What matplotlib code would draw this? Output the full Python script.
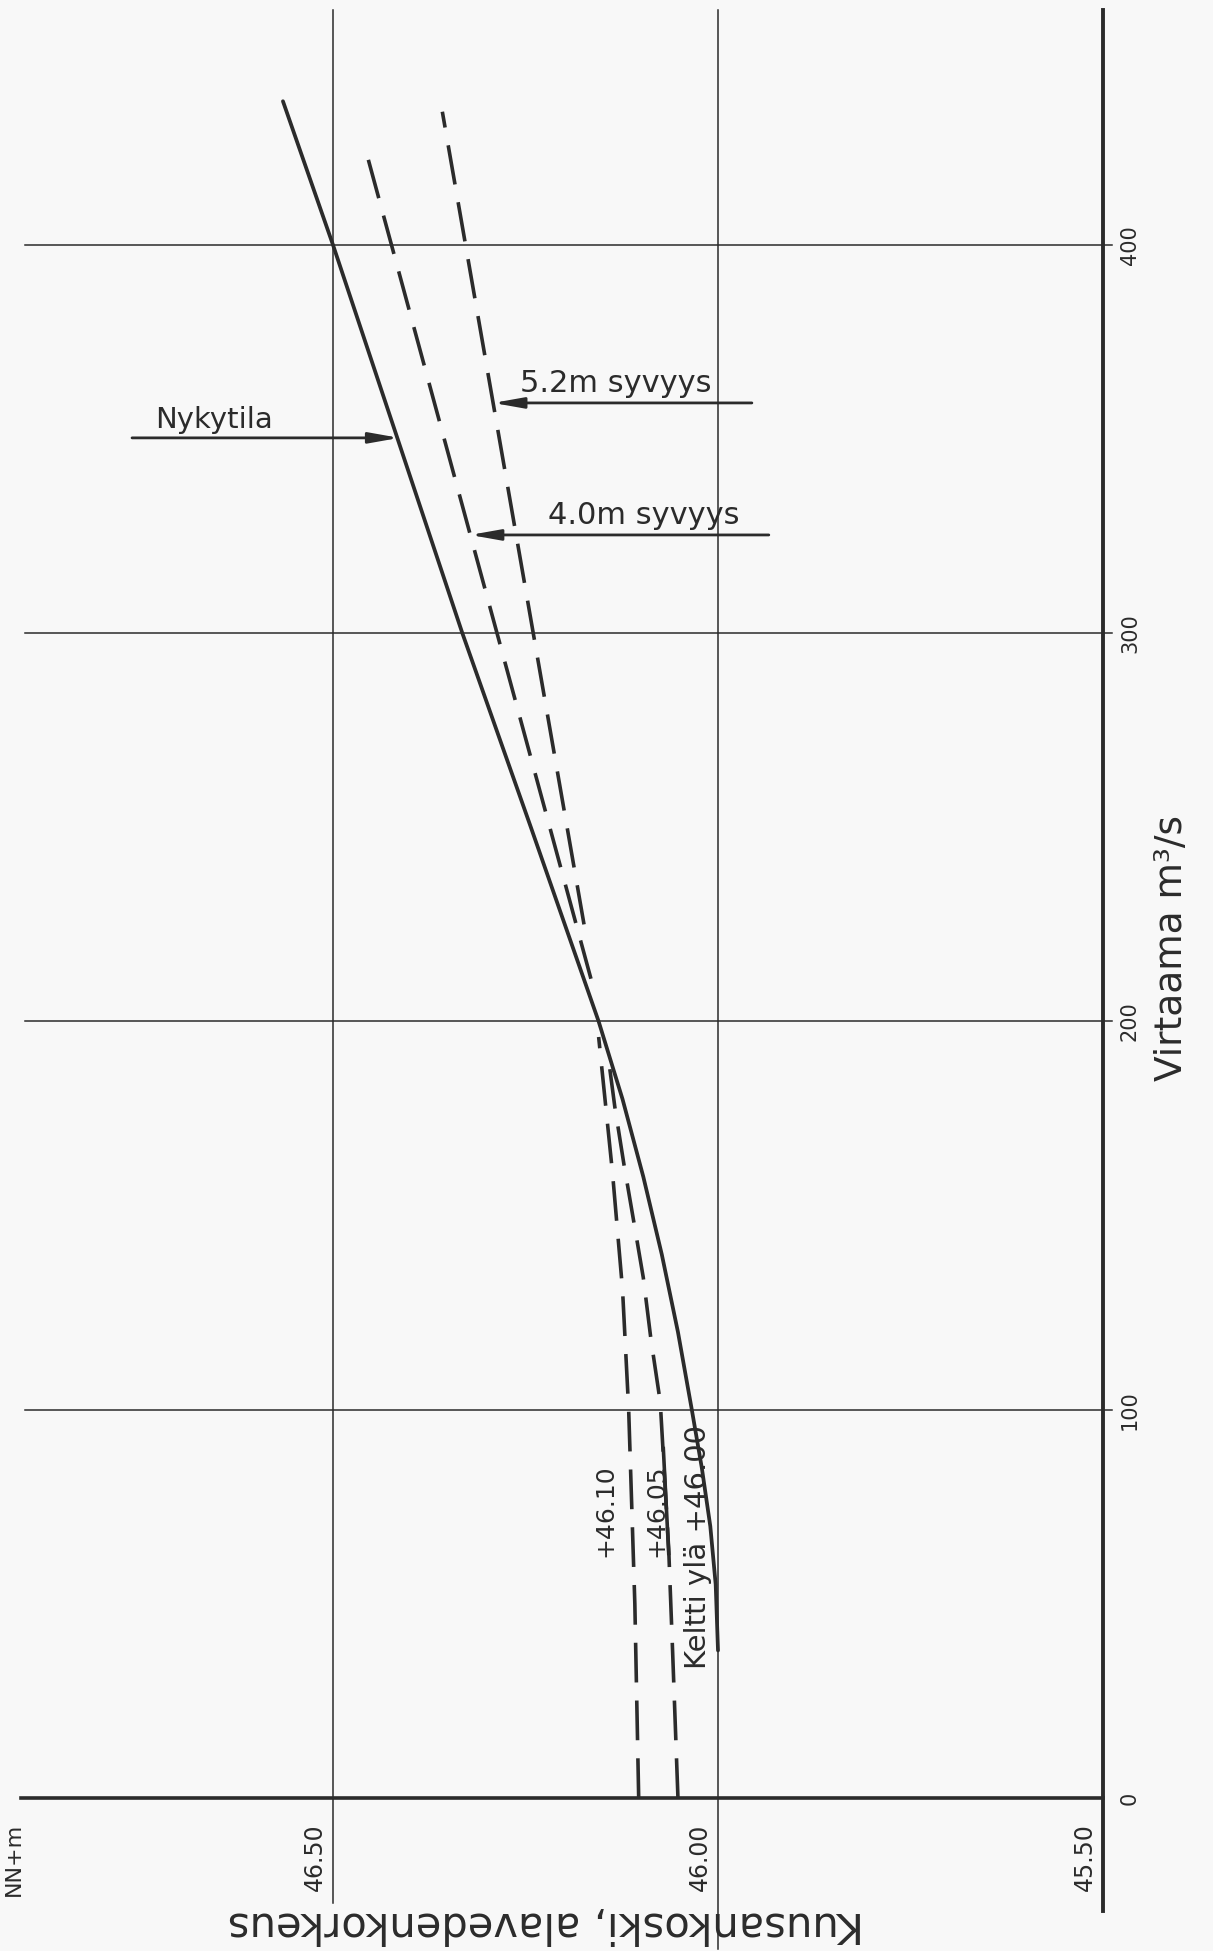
import matplotlib.pyplot as plt

# virtaama (m3/s) vs alavedenkorkeus (NN+m), piirretty kaannettyna kuten originaali
q_nyky = [38, 55, 70, 85, 100, 120, 140, 160, 180, 200, 250, 300, 350, 400, 437]
l_nyky = [46.000, 46.003, 46.010, 46.021, 46.034, 46.052, 46.073, 46.097, 46.124, 46.155,
          46.243, 46.332, 46.416, 46.500, 46.565]

q_4610 = [0, 50, 100, 131, 161, 196]
l_4610 = [46.103, 46.108, 46.116, 46.124, 46.137, 46.155]

q_4605 = [0, 38, 64, 102, 118, 134, 148, 163, 178, 190]
l_4605 = [46.052, 46.059, 46.064, 46.075, 46.087, 46.097, 46.109, 46.122, 46.134, 46.142]

q_40 = [211, 425.5]
l_40 = [46.165, 46.459]

q_52 = [225, 434.3]
l_52 = [46.174, 46.358]

q_ticks = [0, 100, 200, 300, 400]
l_ticks = [46.50, 46.00, 45.50]
l_tick_labels = ["46.50", "46.00", "45.50"]

ink = "#2b2b2b"
paper = "#f8f8f8"

fig = plt.figure(figsize=(12.13, 19.51), dpi=100, facecolor=paper)
ax = fig.add_axes([25 / 1213, 1 - 1798 / 1951, 1078 / 1213, 1788 / 1951])
ax.set_facecolor(paper)
ax.set_xlim(46.90, 45.50)
ax.set_ylim(0, 460.5)
ax.axis("off")

# ruudukko
for q in q_ticks[1:]:
    ax.plot([46.90, 45.488], [q, q], color=ink, lw=1.1, clip_on=False)
ax.plot([46.905, 45.50], [0, 0], color=ink, lw=2.6, clip_on=False)
ax.plot([45.50, 45.50], [460.5, -29], color=ink, lw=2.8, clip_on=False)
ax.plot([46.50, 46.50], [460.5, -27], color=ink, lw=1.1, clip_on=False)
ax.plot([46.00, 46.00], [460.5, -39], color=ink, lw=1.1, clip_on=False)

# kayrat
ax.plot(l_nyky, q_nyky, color=ink, lw=2.7, solid_capstyle="round", solid_joinstyle="round")
for ll, qq in [(l_4610, q_4610), (l_4605, q_4605), (l_40, q_40), (l_52, q_52)]:
    ax.plot(ll, qq, color=ink, lw=2.6, dashes=(11, 5), clip_on=False)
ax.plot([46.064, 46.071], [63, 90], color=ink, lw=2.6)

# selitteet nuolineen
arrow = dict(arrowstyle="-|>,head_length=0.9,head_width=0.16", lw=2.0, color=ink,
             shrinkA=0, shrinkB=0, mutation_scale=20)
ax.annotate("", xy=(46.414, 350.3), xytext=(46.761, 350.3), arrowprops=arrow)
ax.annotate("", xy=(46.292, 359.3), xytext=(45.956, 359.3), arrowprops=arrow)
ax.annotate("", xy=(46.322, 325.3), xytext=(45.934, 325.3), arrowprops=arrow)
ax.text(46.731, 352.8, "Nykytila", fontsize=21, color=ink, ha="left", va="baseline")
ax.text(46.257, 362.0, "5.2m syvyys", fontsize=22, color=ink, ha="left", va="baseline")
ax.text(46.221, 328.0, "4.0m syvyys", fontsize=22, color=ink, ha="left", va="baseline")

ax.text(46.146, 74, "+46.10", fontsize=18, color=ink, rotation=90, ha="center", va="center")
ax.text(46.080, 74, "+46.05", fontsize=18, color=ink, rotation=90, ha="center", va="center")
ax.text(46.026, 64.6, "Keltti ylä +46.00", fontsize=21, color=ink, rotation=90,
        ha="center", va="center")

# akselien tekstit
for q in q_ticks:
    ax.text(45.465, q, str(q), fontsize=15, color=ink, rotation=90,
            ha="center", va="center", clip_on=False)
for l, lab in zip(l_ticks, l_tick_labels):
    ax.text(l + 0.008, -6.5, lab, fontsize=17, color=ink, rotation=90,
            ha="right", va="top", clip_on=False)
ax.text(46.915, -6.5, "NN+m", fontsize=16, color=ink, rotation=90,
        ha="center", va="top", clip_on=False)
ax.text(45.410, 219, "Virtaama m³/s", fontsize=27, color=ink, rotation=90,
        ha="center", va="center", clip_on=False)
ax.text(46.223, -32.5, "Kuusankoski, alavedenkorkeus", fontsize=30, color=ink, rotation=180,
        ha="center", va="center", clip_on=False)

fig.savefig("out.png", dpi=100, facecolor=paper)
